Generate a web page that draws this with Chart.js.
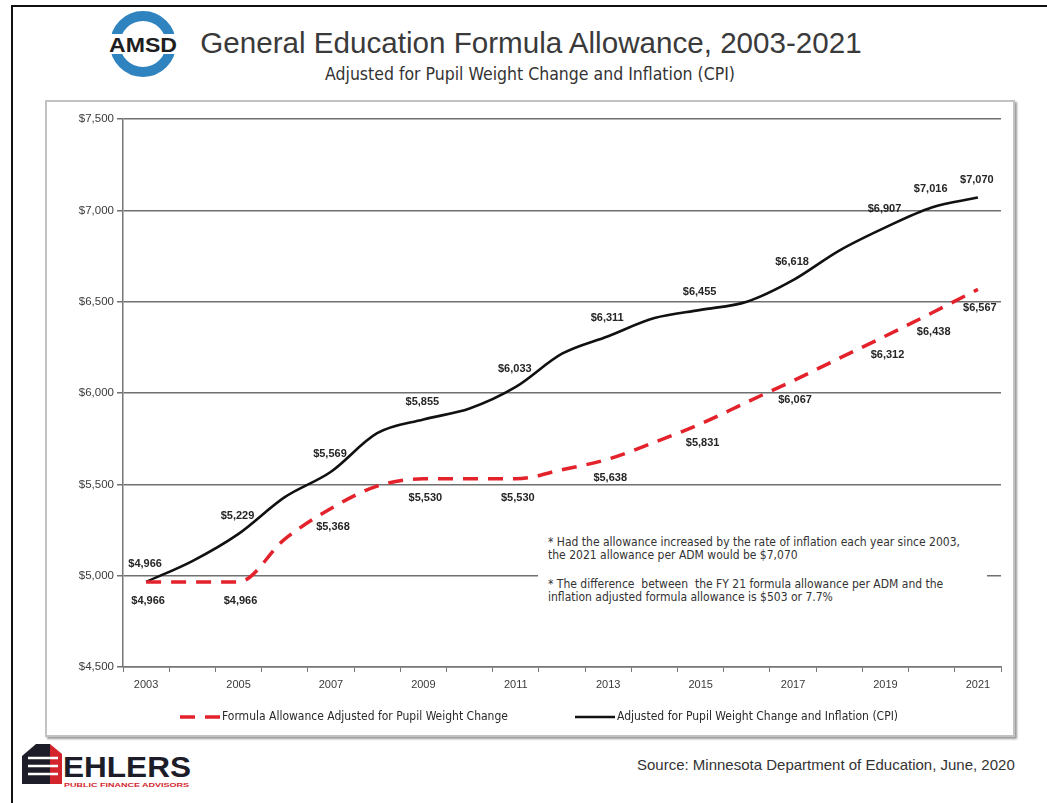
<!DOCTYPE html>
<html lang="en">
<head>
  <meta charset="UTF-8">
  <title>General Education Formula Allowance, 2003-2021</title>
  <script src="https://cdn.jsdelivr.net/npm/chart.js"></script>
  <style>
    html, body { margin: 0; padding: 0; background: #fff; }
    body { width: 1047px; height: 803px; position: relative; overflow: hidden; font-family: "Liberation Sans", Arial, sans-serif; color: #333; }
    .frame { position: absolute; left: 11px; top: 5px; right: -4px; bottom: -4px; border-top: 2px solid #111; border-left: 2px solid #111; }
    .title { position: absolute; left: 0; width: 1062px; text-align: center; top: 26px; font-size: 29.6px; color: #3a3a3a; white-space: nowrap; }
    .subtitle { position: absolute; left: 0; width: 1060px; text-align: center; top: 64px; font-size: 17.5px; font-family: "Liberation Sans Narrow", "DejaVu Sans Condensed", sans-serif; color: #333; }
    .panel { position: absolute; left: 45px; top: 100px; width: 966px; height: 633px; border: 2px solid #c2c2c2; box-shadow: 2px 2px 2px #9a9a9a; background: #fff; }
    .panel canvas { display: block; }
    .note { position: absolute; left: 538px; top: 527px; width: 449px; height: 98px; background: #fff; font-family: "Liberation Sans Narrow", "DejaVu Sans Condensed", sans-serif; font-size: 12px; line-height: 13px; color: #333; padding-left: 10px; box-sizing: border-box; }
    .note p { margin: 9px 0 0 0; }
    .note p + p { margin-top: 16px; }
    .source { position: absolute; left: 637px; top: 756px; font-size: 15px; color: #333; white-space: nowrap; }
    svg { position: absolute; }
  </style>
</head>
<body>
  <div class="frame"></div>

  <svg style="left:105px; top:5px" width="80" height="80">
    <circle cx="38" cy="39" r="28" fill="none" stroke="#2f83bf" stroke-width="10"/>
    <rect x="0" y="29" width="80" height="20" fill="#fff"/>
    <text x="38" y="47" text-anchor="middle" font-family="Liberation Sans, Arial" font-weight="bold" font-size="20" fill="#1e1e1e" textLength="68" lengthAdjust="spacingAndGlyphs">AMSD</text>
  </svg>
  <div class="title">General Education Formula Allowance, 2003-2021</div>
  <div class="subtitle">Adjusted for Pupil Weight Change and Inflation (CPI)</div>

  <div class="panel">
    <canvas id="chart" width="966" height="633"></canvas>
  </div>

  <div class="note">
    <p>* Had the allowance increased by the rate of inflation each year since 2003,<br>the 2021 allowance per ADM would be $7,070</p>
    <p>* The difference&nbsp; between&nbsp; the FY 21 formula allowance per ADM and the<br>inflation adjusted formula allowance is $503 or 7.7%</p>
  </div>

  <svg style="left:18px; top:740px" width="180" height="56">
    <polygon points="4,16 18,4 32,4 32,44 4,44" fill="#1d1d29"/>
    <polygon points="32,4 44,14 44,44 32,44" fill="#d3242c"/>
    <path d="M10,18 L40,18 M10,26 L40,26 M10,34 L40,34" stroke="#fff" stroke-width="2.5"/>
    <text x="45" y="37" font-family="Liberation Sans, Arial" font-weight="bold" font-size="29" fill="#1d1d29" textLength="128" lengthAdjust="spacingAndGlyphs">EHLERS</text>
    <text x="46" y="47" font-family="Liberation Sans, Arial" font-weight="bold" font-size="6" fill="#d3242c" textLength="125" lengthAdjust="spacingAndGlyphs">PUBLIC FINANCE ADVISORS</text>
  </svg>
  <div class="source">Source: Minnesota Department of Education, June, 2020</div>

  <script>
    const years = ['2003', '2004', '2005', '2006', '2007', '2008', '2009', '2010', '2011', '2012',
                   '2013', '2014', '2015', '2016', '2017', '2018', '2019', '2020', '2021'];
    const formulaAllowance = [4966, 4966, 4966, 5200, 5368, 5490, 5530, 5530, 5530, 5580,
                              5638, 5730, 5831, 5950, 6067, 6190, 6312, 6438, 6567];
    const inflationAdjusted = [4966, 5080, 5229, 5430, 5569, 5780, 5855, 5915, 6033, 6215,
                               6311, 6410, 6455, 6500, 6618, 6780, 6907, 7016, 7070];
    const labeledYears = ['2003', '2005', '2007', '2009', '2011', '2013', '2015', '2017', '2019', '2020', '2021'];
    const yTicks = [4500, 5000, 5500, 6000, 6500, 7000, 7500];

    const money = v => '$' + v.toLocaleString('en-US');
    const narrow = '"Liberation Sans Narrow", "DejaVu Sans Condensed", sans-serif';

    // value labels: black series above the line, red series below
    const valueLabels = {
      id: 'valueLabels',
      afterDatasetsDraw(chart) {
        const ctx = chart.ctx;
        ctx.save();
        ctx.font = 'bold 11px "Liberation Sans", Arial, sans-serif';
        ctx.fillStyle = '#262626';
        ctx.textAlign = 'center';
        ctx.textBaseline = 'middle';
        chart.data.datasets.forEach((ds, di) => {
          const meta = chart.getDatasetMeta(di);
          meta.data.forEach((pt, i) => {
            if (!labeledYears.includes(years[i])) return;
            if (ds.labelBelow) {
              ctx.fillText(money(ds.data[i]), pt.x + 2, pt.y + 19);
            } else {
              ctx.fillText(money(ds.data[i]), pt.x - 1, pt.y - 18);
            }
          });
        });
        ctx.restore();
      }
    };

    // legend drawn below the axis, spaced like the original
    const bottomLegend = {
      id: 'bottomLegend',
      afterDraw(chart) {
        const ctx = chart.ctx;
        const y = 615;
        const starts = [133, 528];
        ctx.save();
        ctx.font = '12px ' + narrow;
        ctx.textBaseline = 'middle';
        chart.data.datasets.forEach((ds, di) => {
          const x = starts[di];
          ctx.strokeStyle = ds.borderColor;
          ctx.lineWidth = ds.borderWidth;
          ctx.setLineDash(ds.borderDash || []);
          ctx.beginPath();
          ctx.moveTo(x, y);
          ctx.lineTo(x + 40, y);
          ctx.stroke();
          ctx.setLineDash([]);
          ctx.fillStyle = '#2a2a2a';
          ctx.fillText(ds.label, x + 42, y);
        });
        ctx.restore();
      }
    };

    new Chart(document.getElementById('chart'), {
      type: 'line',
      data: {
        labels: years,
        datasets: [
          {
            label: 'Formula Allowance Adjusted for Pupil Weight Change',
            data: formulaAllowance,
            borderColor: '#e3222b',
            borderWidth: 3.5,
            borderDash: [15, 10],
            pointRadius: 0,
            cubicInterpolationMode: 'monotone',
            labelBelow: true
          },
          {
            label: 'Adjusted for Pupil Weight Change and Inflation (CPI)',
            data: inflationAdjusted,
            borderColor: '#111111',
            borderWidth: 2.6,
            pointRadius: 0,
            cubicInterpolationMode: 'monotone'
          }
        ]
      },
      options: {
        responsive: false,
        animation: false,
        layout: { padding: { left: 0, right: 12, top: 17, bottom: 38 } },
        plugins: {
          legend: { display: false },
          tooltip: { enabled: false }
        },
        scales: {
          x: {
            offset: true,
            afterFit: s => { s.height = 30; },
            grid: { offset: true, drawOnChartArea: false, drawTicks: true, tickLength: 5, color: '#777' },
            border: { color: '#777', width: 1.5 },
            ticks: {
              autoSkip: false,
              maxRotation: 0,
              padding: 6,
              color: '#3a3a3a',
              font: { family: '"Liberation Sans", Arial, sans-serif', size: 11 },
              callback: (v, i) => (i % 2 === 0 ? years[i] : '')
            }
          },
          y: {
            min: 4500,
            max: 7500,
            afterFit: s => { s.width = 76; },
            afterBuildTicks: s => { s.ticks = yTicks.map(v => ({ value: v })); },
            grid: { color: '#707070', lineWidth: 1.5, tickLength: 6 },
            border: { color: '#777', width: 1.5 },
            ticks: {
              padding: 3,
              color: '#3a3a3a',
              font: { family: '"Liberation Sans", Arial, sans-serif', size: 11.5 },
              callback: v => money(v)
            }
          }
        }
      },
      plugins: [valueLabels, bottomLegend]
    });
  </script>
</body>
</html>
